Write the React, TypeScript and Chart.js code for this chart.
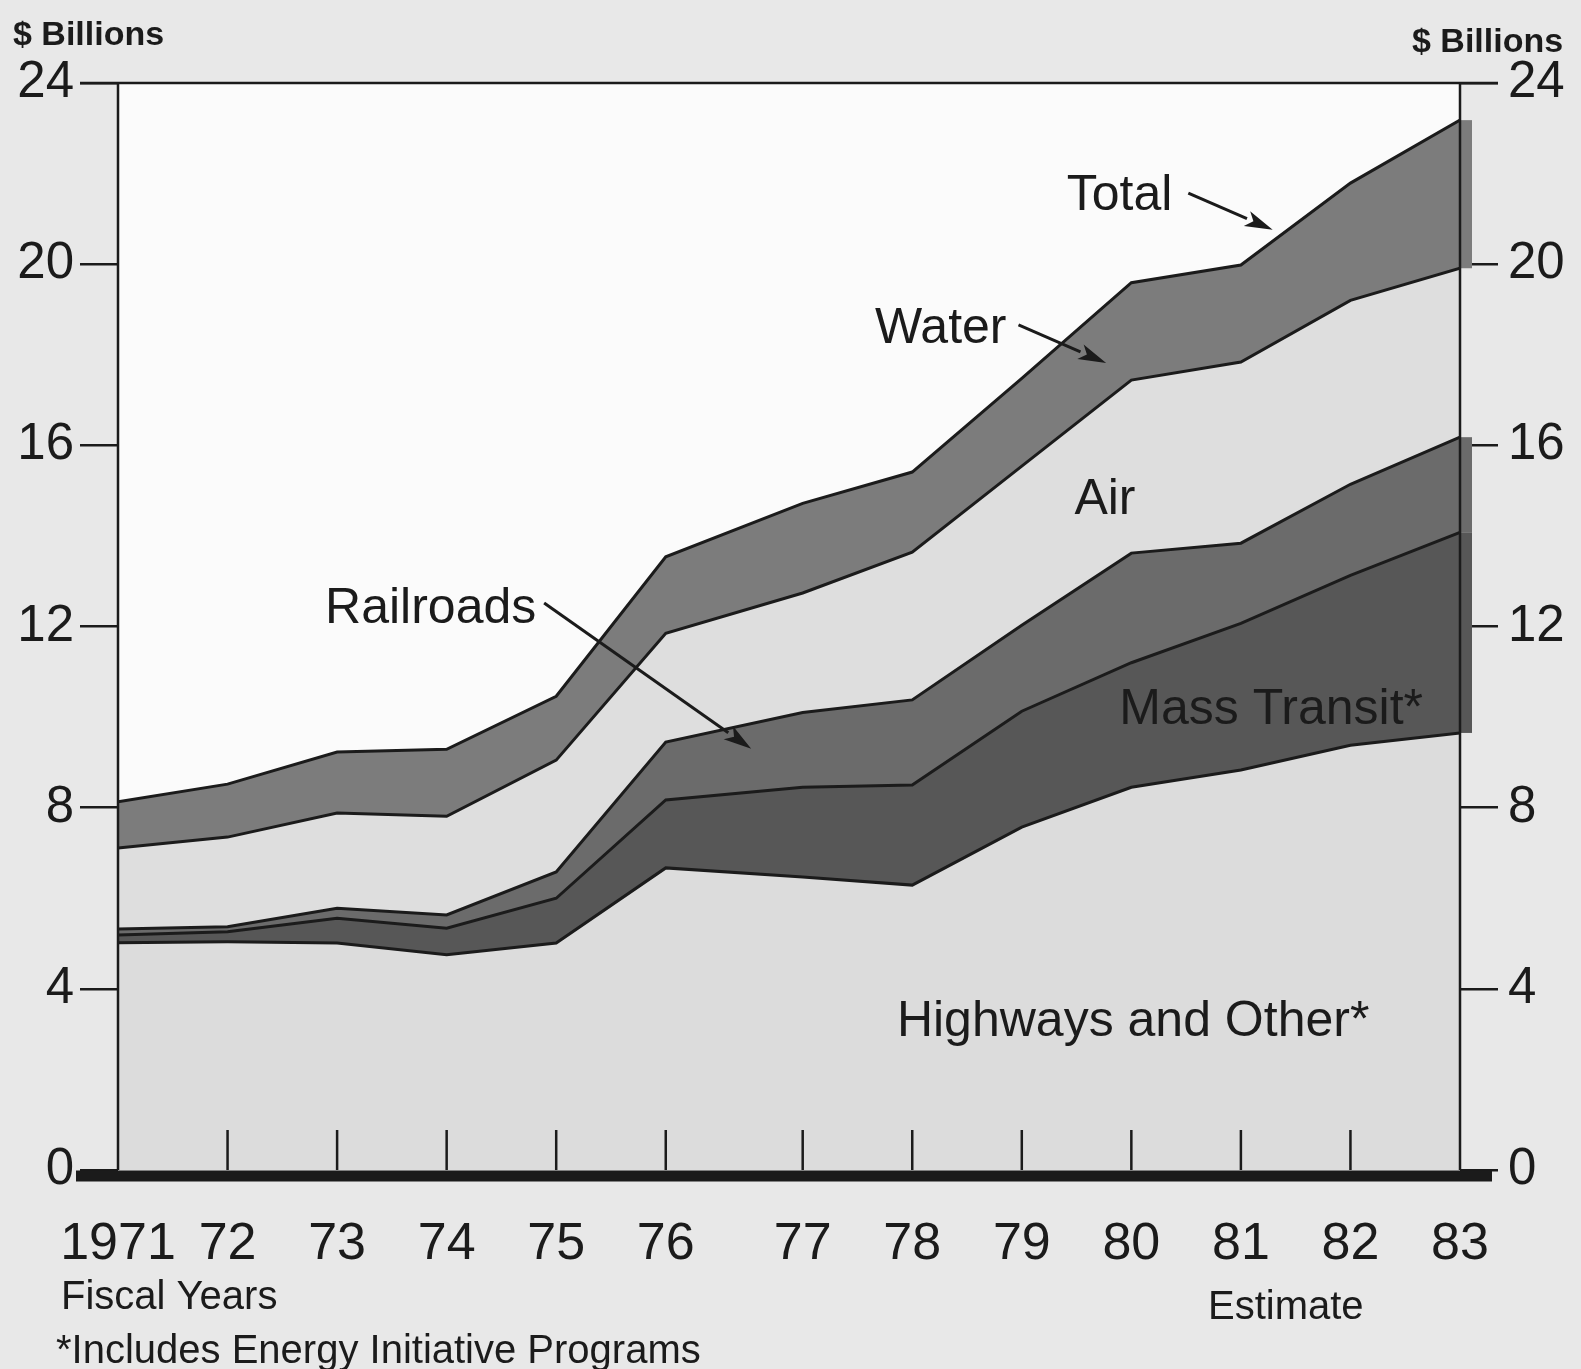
import React, { useEffect, useRef } from "react";
import { Chart, registerables } from "chart.js";

Chart.register(...registerables);

// ---- data (fiscal years; the transition quarter widens the 76-77 gap) ----
const years = [71, 72, 73, 74, 75, 76, 77.25, 78.25, 79.25, 80.25, 81.25, 82.25, 83.25];
const yearLabels = ["1971", "72", "73", "74", "75", "76", "77", "78", "79", "80", "81", "82", "83"];
const highways = [5.02, 5.04, 5.01, 4.75, 5.01, 6.67, 6.47, 6.29, 7.57, 8.45, 8.83, 9.38, 9.65];
const massTransit = [0.17, 0.22, 0.55, 0.59, 0.99, 1.5, 1.98, 2.21, 2.56, 2.75, 3.24, 3.75, 4.43];
const railroads = [0.13, 0.11, 0.22, 0.29, 0.58, 1.28, 1.65, 1.88, 1.9, 2.42, 1.77, 2.01, 2.1];
const air = [1.79, 1.98, 2.1, 2.18, 2.47, 2.4, 2.64, 3.26, 3.51, 3.82, 4.0, 4.06, 3.73];
const water = [1.02, 1.17, 1.35, 1.48, 1.41, 1.69, 1.98, 1.77, 1.94, 2.15, 2.14, 2.59, 3.27];
const yTickValues = [0, 4, 8, 12, 16, 20, 24];

// ---- styling ----
const INK = "#1b1b1b";
const PAGE_BG = "#e8e8e8";
const PLOT_BG = "#fbfbfb";
const C_HWY = "#dcdcdc";
const C_MT = "#575757";
const C_RR = "#6b6b6b";
const C_AIR = "#dedede";
const C_WATER = "#7c7c7c";
const SANS = '"Liberation Sans", Arial, sans-serif';

const W = 1581;
const H = 1369;

// annotations in data coordinates
const notes = [
  { text: "Total", x: 79.66, y: 21.2 },
  { text: "Water", x: 77.91, y: 18.26 },
  { text: "Air", x: 79.73, y: 14.48 },
  { text: "Railroads", x: 72.89, y: 12.08 },
  { text: "Mass Transit*", x: 80.14, y: 9.85 },
  { text: "Highways and Other*", x: 78.11, y: 2.96 },
];
const arrows = [
  { x1: 80.77, y1: 21.57, x2: 81.54, y2: 20.76 },
  { x1: 79.22, y1: 18.66, x2: 80.02, y2: 17.82 },
  { x1: 74.89, y1: 12.52, x2: 76.78, y2: 9.3 },
];

function stackAt(i: number, n: number) {
  const series = [highways, massTransit, railroads, air, water];
  let s = 0;
  for (let k = 0; k < n; k++) s += series[k][i];
  return s;
}

const framePlugin = {
  id: "frame",
  beforeDraw(chart: any) {
    const { ctx, chartArea: a, width, height } = chart;
    ctx.save();
    ctx.fillStyle = PAGE_BG;
    ctx.fillRect(0, 0, width, height);
    ctx.fillStyle = PLOT_BG;
    ctx.fillRect(a.left, a.top, a.right - a.left, a.bottom - a.top);
    ctx.restore();
  },
  afterDatasetsDraw(chart: any) {
    const { ctx, chartArea: a, scales } = chart;
    const xs = scales.x;
    const ys = scales.y;
    const last = years.length - 1;
    ctx.save();

    // small print-offset overhang of dark bands at the right edge
    const ov = 12;
    const patch = (lo: number, hi: number, col: string) => {
      const t = ys.getPixelForValue(hi);
      const b = ys.getPixelForValue(lo);
      ctx.fillStyle = col;
      ctx.fillRect(a.right, t, ov, b - t);
    };
    patch(stackAt(last, 4), stackAt(last, 5), C_WATER);
    patch(stackAt(last, 2), stackAt(last, 3), C_RR);
    patch(stackAt(last, 1), stackAt(last, 2), C_MT);

    const y0 = ys.getPixelForValue(0);
    const y24 = ys.getPixelForValue(24);

    // frame
    ctx.strokeStyle = INK;
    ctx.lineWidth = 2.5;
    ctx.beginPath();
    ctx.moveTo(a.left, y24);
    ctx.lineTo(a.left, y0);
    ctx.moveTo(a.right, y24);
    ctx.lineTo(a.right, y0);
    ctx.moveTo(a.left - 38, y24);
    ctx.lineTo(a.right + 38, y24);
    ctx.stroke();

    // x tick marks (inside, upward)
    ctx.lineWidth = 2.5;
    ctx.beginPath();
    for (let i = 1; i < last; i++) {
      const px = xs.getPixelForValue(years[i]);
      ctx.moveTo(px, y0);
      ctx.lineTo(px, y0 - 40);
    }
    ctx.stroke();

    // thick baseline
    ctx.lineWidth = 11;
    ctx.beginPath();
    ctx.moveTo(a.left - 42, y0 + 6);
    ctx.lineTo(a.right + 32, y0 + 6);
    ctx.stroke();

    // annotations
    ctx.fillStyle = INK;
    ctx.font = `50px ${SANS}`;
    ctx.textAlign = "left";
    ctx.textBaseline = "alphabetic";
    for (const n of notes) {
      ctx.fillText(n.text, xs.getPixelForValue(n.x), ys.getPixelForValue(n.y));
    }
    ctx.lineWidth = 3;
    for (const ar of arrows) {
      const x1 = xs.getPixelForValue(ar.x1);
      const y1 = ys.getPixelForValue(ar.y1);
      const x2 = xs.getPixelForValue(ar.x2);
      const y2 = ys.getPixelForValue(ar.y2);
      const ang = Math.atan2(y2 - y1, x2 - x1);
      const hl = 28;
      const hw = 8;
      const bx = x2 - hl * Math.cos(ang);
      const by = y2 - hl * Math.sin(ang);
      ctx.beginPath();
      ctx.moveTo(x1, y1);
      ctx.lineTo(bx, by);
      ctx.stroke();
      ctx.beginPath();
      ctx.moveTo(x2, y2);
      ctx.lineTo(bx + hw * Math.sin(ang), by - hw * Math.cos(ang));
      ctx.lineTo(bx + 7 * Math.cos(ang), by + 7 * Math.sin(ang));
      ctx.lineTo(bx - hw * Math.sin(ang), by + hw * Math.cos(ang));
      ctx.closePath();
      ctx.fill();
    }

    // outer texts
    ctx.font = `bold 34px ${SANS}`;
    ctx.textAlign = "left";
    ctx.fillText("$ Billions", 13, 45);
    ctx.fillText("$ Billions", 1412, 52);

    ctx.font = `40px ${SANS}`;
    ctx.fillText("Fiscal Years", 61, 1309);
    ctx.fillText("*Includes Energy Initiative Programs", 56, 1363);
    ctx.fillText("Estimate", 1208, 1319);
    ctx.restore();
  },
};

export default function App() {
  const ref = useRef<HTMLCanvasElement | null>(null);

  useEffect(() => {
    document.body.style.margin = "0";
    document.body.style.background = PAGE_BG;
    const canvas = ref.current;
    if (!canvas) return;
    const mk = (label: string, data: number[], color: string, fill: any) => ({
      label,
      data: years.map((x, i) => ({ x, y: data[i] })),
      backgroundColor: color,
      borderColor: INK,
      borderWidth: 3,
      pointRadius: 0,
      tension: 0,
      fill,
    });
    const chart = new Chart(canvas, {
      type: "line",
      data: {
        datasets: [
          mk("Highways and Other*", highways, C_HWY, "origin"),
          mk("Mass Transit*", massTransit, C_MT, "-1"),
          mk("Railroads", railroads, C_RR, "-1"),
          mk("Air", air, C_AIR, "-1"),
          mk("Water", water, C_WATER, "-1"),
        ],
      },
      options: {
        responsive: false,
        animation: false,
        devicePixelRatio: 1,
        layout: { padding: { top: 83, left: 0, right: 0, bottom: 0 } },
        plugins: { legend: { display: false }, tooltip: { enabled: false } },
        scales: {
          x: {
            type: "linear",
            min: 71,
            max: 83.25,
            grid: { display: false },
            border: { display: false },
            afterBuildTicks: (s: any) => {
              s.ticks = years.map((v) => ({ value: v }));
            },
            afterFit: (s: any) => {
              s.height = 199;
            },
            ticks: {
              autoSkip: false,
              maxRotation: 0,
              minRotation: 0,
              padding: 35,
              color: INK,
              font: { family: SANS, size: 52 },
              callback: (_v: any, i: number) => yearLabels[i],
            },
          },
          y: {
            position: "left",
            stacked: true,
            min: 0,
            max: 24,
            afterBuildTicks: (s: any) => {
              s.ticks = yTickValues.map((v) => ({ value: v }));
            },
            afterFit: (s: any) => {
              s.width = 118;
            },
            grid: {
              display: true,
              drawOnChartArea: false,
              drawTicks: true,
              tickLength: 38,
              color: INK,
              lineWidth: 2.5,
            },
            border: { display: false },
            ticks: { padding: 6, color: INK, font: { family: SANS, size: 51 } },
          },
          y2: {
            position: "right",
            min: 0,
            max: 24,
            afterBuildTicks: (s: any) => {
              s.ticks = yTickValues.map((v) => ({ value: v }));
            },
            afterFit: (s: any) => {
              s.width = 121;
            },
            grid: {
              display: true,
              drawOnChartArea: false,
              drawTicks: true,
              tickLength: 38,
              color: INK,
              lineWidth: 2.5,
            },
            border: { display: false },
            ticks: { padding: 10, color: INK, font: { family: SANS, size: 51 } },
          },
        },
      },
      plugins: [framePlugin],
    } as any);
    return () => chart.destroy();
  }, []);

  return (
    <div style={{ position: "absolute", left: 0, top: 0, width: W, height: H, background: PAGE_BG }}>
      <canvas ref={ref} width={W} height={H} style={{ width: W, height: H, display: "block" }} />
    </div>
  );
}
